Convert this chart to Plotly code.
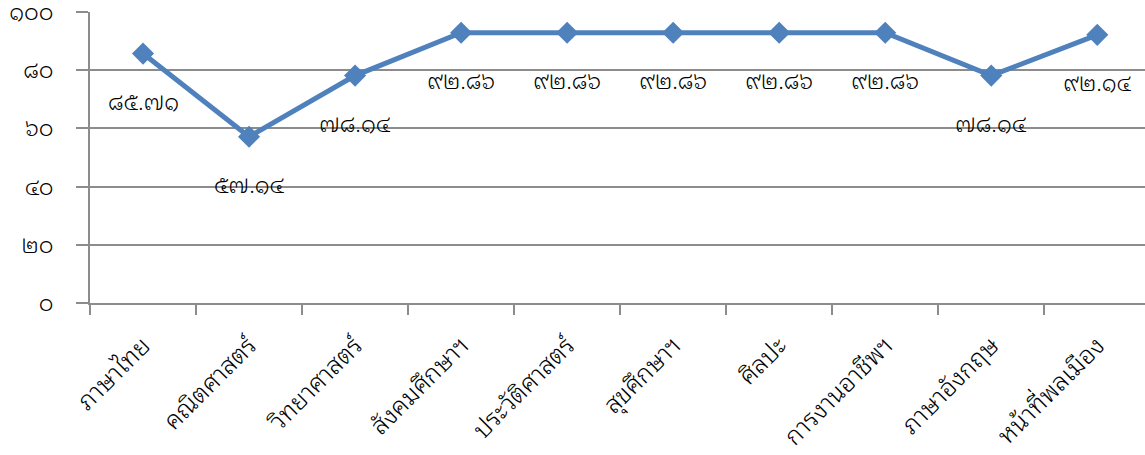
import plotly.graph_objects as go

categories = ["ภาษาไทย", "คณิตศาสตร์", "วิทยาศาสตร์", "สังคมศึกษาฯ", "ประวัติศาสตร์",
              "สุขศึกษาฯ", "ศิลปะ", "การงานอาชีพฯ", "ภาษาอังกฤษ", "หน้าที่พลเมือง"]
values = [85.71, 57.14, 78.14, 92.86, 92.86, 92.86, 92.86, 92.86, 78.14, 92.14]
value_labels = ["๘๕.๗๑", "๕๗.๑๔", "๗๘.๑๔", "๙๒.๘๖", "๙๒.๘๖", "๙๒.๘๖", "๙๒.๘๖", "๙๒.๘๖", "๗๘.๑๔", "๙๒.๑๔"]
y_tick_vals = [0, 20, 40, 60, 80, 100]
y_tick_text = ["๐", "๒๐", "๔๐", "๖๐", "๘๐", "๑๐๐"]

FONT = "'Noto Sans Thai Looped', 'Noto Sans Thai', sans-serif"
GRID = "#8c8c8c"
BLUE = "#4F81BD"

fig = go.Figure()
fig.add_trace(go.Scatter(
    x=categories, y=values, mode="lines+markers",
    line=dict(color=BLUE, width=5),
    marker=dict(symbol="diamond", size=17, color=BLUE),
    hoverinfo="skip", showlegend=False,
))

for c, v, t in zip(categories, values, value_labels):
    fig.add_annotation(x=c, y=v, text=t, showarrow=False, yshift=-46,
                       font=dict(family=FONT, size=23, color="#000", weight=300))

fig.update_layout(
    width=1145, height=455,
    margin=dict(l=90, r=0, t=12, b=152),
    paper_bgcolor="white", plot_bgcolor="white",
    font=dict(family=FONT, size=18, color="#000", weight=300),
)
fig.update_xaxes(
    type="category", range=[-0.5, 9.45], automargin=False,
    showline=True, linecolor=GRID, linewidth=2,
    ticks="outside", tickson="boundaries", ticklen=10, tickcolor=GRID, tickwidth=2,
    tickangle=-45, showgrid=False, ticklabelstandoff=16,
    tickfont=dict(size=25, weight=300),
)
fig.update_yaxes(
    range=[0, 100], tickvals=y_tick_vals, ticktext=y_tick_text, automargin=False,
    showline=True, linecolor=GRID, linewidth=2,
    ticks="outside", ticklen=12, tickcolor=GRID, tickwidth=2,
    showgrid=True, gridcolor=GRID, gridwidth=2, zeroline=False,
    ticklabelstandoff=18, ticklabeloverflow="allow",
    tickfont=dict(size=23, weight=300),
)

fig.write_html("out.html", config={"displayModeBar": False},
               post_script="document.body.style.margin='0';")
